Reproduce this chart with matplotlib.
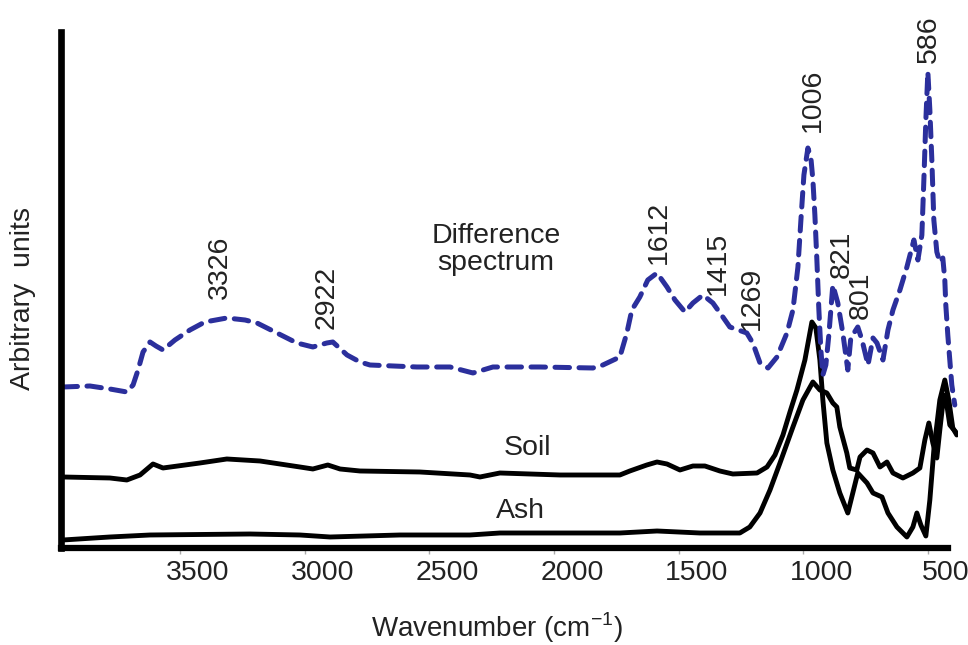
import matplotlib
matplotlib.use('Agg')
import matplotlib.pyplot as plt
import matplotlib.transforms as mtransforms

plt.rcParams['font.family'] = ['Liberation Sans', 'DejaVu Sans']

# difference spectrum (blue dashed)
diff_wn = [3969, 3861, 3781, 3713, 3688, 3668, 3648, 3620, 3596, 3568, 3520, 3460, 3400, 3312,
           3239, 3191, 3119, 3031, 2967, 2911, 2887, 2830, 2778, 2738, 2550, 2417, 2325, 2245,
           2057, 1844, 1804, 1736, 1708, 1688, 1656, 1624, 1587, 1547, 1515, 1475, 1443, 1403,
           1363, 1323, 1295, 1227, 1203, 1174, 1142, 1106, 1066, 1042, 1022, 1010, 998, 982,
           970, 962, 954, 946, 938, 930, 922, 910, 898, 882, 862, 842, 822, 810, 782, 765,
           741, 721, 705, 681, 661, 641, 613, 585, 557, 541, 525, 517, 509, 501, 493, 485,
           477, 465, 453, 441, 433, 429, 421, 413, 405, 393]
diff_int = [161, 162, 159, 156, 163, 178, 196, 206, 202, 198, 208, 218, 226, 230,
            228, 225, 216, 205, 201, 205, 206, 193, 186, 183, 181, 181, 175, 181,
            181, 180, 183, 191, 215, 238, 251, 268, 275, 261, 248, 236, 245, 253,
            245, 231, 221, 215, 205, 185, 180, 191, 215, 238, 281, 328, 373, 400,
            390, 368, 333, 288, 238, 198, 173, 183, 213, 263, 245, 215, 178, 210, 221, 208,
            183, 210, 205, 188, 218, 238, 258, 281, 308, 288, 313, 368, 428, 476, 438, 388,
            328, 296, 286, 290, 268, 243, 213, 188, 163, 143]

# soil spectrum
soil_wn = [3969, 3781, 3713, 3660, 3608, 3568, 3420, 3312, 3179, 3019, 2967, 2907, 2858, 2778,
           2538, 2337, 2297, 2217, 1976, 1736, 1696, 1628, 1587, 1547, 1495, 1443, 1395, 1335,
           1283, 1186, 1146, 1114, 1082, 1054, 1026, 994, 966, 950, 934, 922, 906, 882, 854,
           822, 802, 782, 745, 721, 685, 661, 625, 585, 561, 545, 529, 509, 493, 477, 453,
           433, 417, 401, 385]
soil_int = [71, 70, 68, 73, 84, 80, 85, 89, 87, 81, 79, 83, 79, 77,
            76, 73, 71, 75, 73, 73, 77, 83, 86, 84, 78, 82, 82, 77,
            74, 75, 81, 93, 113, 136, 158, 188, 226, 220, 188, 148, 105, 78, 55,
            35, 55, 75, 65, 55, 51, 35, 21, 11, 21, 35, 23, 12, 48, 98, 148,
            168, 148, 120, 113]

# ash spectrum
ash_wn = [3969, 3781, 3620, 3219, 3019, 2898, 2618, 2337, 2217, 1976, 1736, 1587, 1415, 1255,
          1215, 1174, 1134, 1094, 1042, 1002, 962, 934, 906, 882, 866, 854, 826, 814, 786,
          773, 745, 721, 693, 665, 641, 601, 561, 533, 513, 497, 481, 465, 453, 437, 425,
          413, 389]
ash_int = [8, 11, 13, 14, 13, 11, 13, 13, 15, 15, 15, 17, 15, 15,
           21, 35, 58, 85, 121, 148, 166, 158, 155, 145, 141, 121, 95, 80, 78,
           91, 98, 95, 81, 86, 75, 70, 75, 80, 108, 125, 105, 90, 118, 153, 143,
           123, 116]

peak_labels = ['3326', '2922', '1612', '1415', '1269', '1006', '821', '801', '586']
peak_label_xy = [(3339, 281), (2910, 251), (1579, 316), (1342, 285), (1206, 250),
                 (961, 448), (845, 294), (769, 253), (496, 485)]

xticks = [3500, 3000, 2500, 2000, 1500, 1000, 500]

FS = 20.5

fig = plt.figure(figsize=(9.68, 6.45), dpi=100)
ax = fig.add_axes([0.063, 0.1504, 0.9267, 0.8])

ax.plot(ash_wn, ash_int, color='black', lw=3.5, solid_joinstyle='round', solid_capstyle='round')
ax.plot(soil_wn, soil_int, color='black', lw=3.5, solid_joinstyle='round', solid_capstyle='round')
ax.plot(diff_wn, diff_int, color='#2B2F9C', lw=3.6, linestyle=(0, (2.9, 1.9)),
        dash_capstyle='round', dash_joinstyle='round')

ax.set_xlim(3977, 380)
ax.set_ylim(0, 516)

for side in ['top', 'right']:
    ax.spines[side].set_visible(False)
ax.spines['left'].set_linewidth(4.8)
ax.spines['bottom'].set_linewidth(4.5)
ax.spines['bottom'].set_bounds(3977, 421)
ax.spines['bottom'].set_capstyle('projecting')

ax.set_yticks([])
ax.set_xticks(xticks)
ax.set_xticklabels([str(t) for t in xticks])
ax.tick_params(axis='x', direction='out', length=4, width=1, color='#aaaaaa',
               labelsize=FS, pad=5, labelcolor='#222222')
offset = mtransforms.ScaledTranslation(0.18, 0, fig.dpi_scale_trans)
for lbl in ax.get_xticklabels():
    lbl.set_transform(lbl.get_transform() + offset)

ax.set_xlabel('Wavenumber (cm$^{\\mathregular{-1}}$)', fontsize=20, color='#222222')
ax.xaxis.set_label_coords(0.486, -0.122)
ax.set_ylabel('Arbitrary  units', fontsize=FS, color='#222222')
ax.yaxis.set_label_coords(-0.028, 0.484)

for txt, (x, y) in zip(peak_labels, peak_label_xy):
    va = 'bottom' if txt == '586' else 'center'
    ax.text(x, y, txt, rotation=90, ha='center', va=va, fontsize=FS, color='#222222',
            clip_on=False)

ax.text(2233, 298, 'Difference\nspectrum', ha='center', va='center', fontsize=FS,
        color='#222222', linespacing=1.05)
ax.text(2108, 100, 'Soil', ha='center', va='center', fontsize=FS, color='#222222')
ax.text(2136, 37, 'Ash', ha='center', va='center', fontsize=FS, color='#222222')

fig.savefig('out.png', dpi=100)
